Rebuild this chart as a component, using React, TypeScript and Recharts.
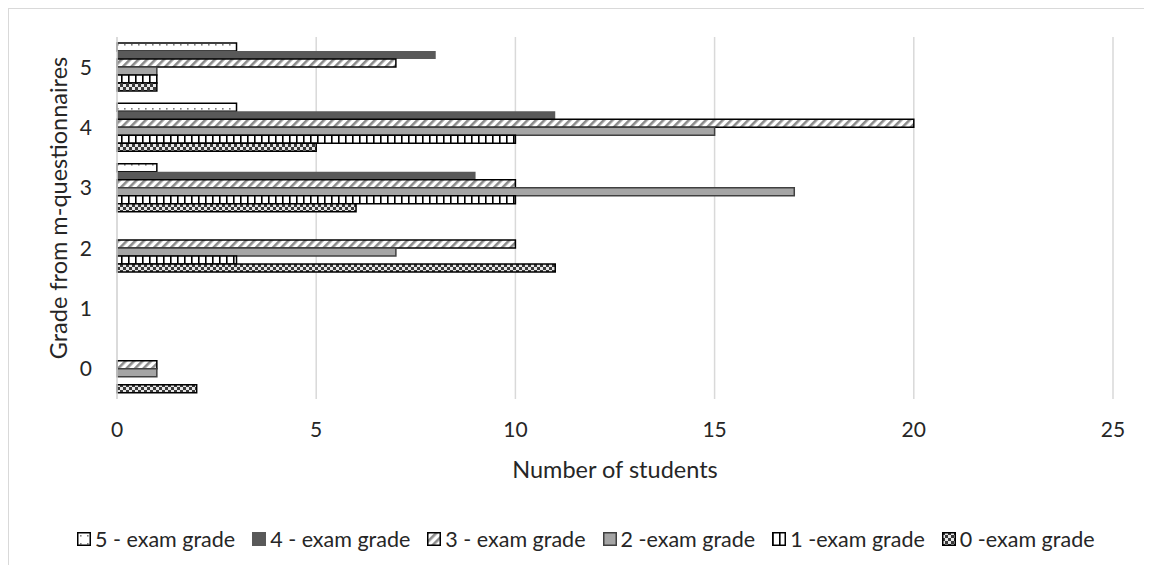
import { BarChart, Bar, XAxis, YAxis, CartesianGrid } from "recharts";

const grades = ["5", "4", "3", "2", "1", "0"];
const exam5 = [3, 3, 1, 0, 0, 0];
const exam4 = [8, 11, 9, 0, 0, 0];
const exam3 = [7, 20, 10, 10, 0, 1];
const exam2 = [1, 15, 17, 7, 0, 1];
const exam1 = [1, 10, 10, 3, 0, 0];
const exam0 = [1, 5, 6, 11, 0, 2];
const xTicks = [0, 5, 10, 15, 20, 25];

const series = [
    { key: "e5", name: "5 - exam grade", values: exam5, fill: "url(#pDots)", stroke: "#000" },
    { key: "e4", name: "4 - exam grade", values: exam4, fill: "#595959", stroke: "none" },
    { key: "e3", name: "3 - exam grade", values: exam3, fill: "url(#pDiag)", stroke: "#000" },
    { key: "e2", name: "2 -exam grade", values: exam2, fill: "#a5a5a5", stroke: "#404040" },
    { key: "e1", name: "1 -exam grade", values: exam1, fill: "url(#pVert)", stroke: "#000" },
    { key: "e0", name: "0 -exam grade", values: exam0, fill: "url(#pCheck)", stroke: "#000" }
];

const data = grades.map((g, i) => {
    const row: any = { grade: g };
    series.forEach((s) => {
        row[s.key] = s.values[i];
    });
    return row;
});

const FONT = "Lato, 'Liberation Sans', sans-serif";
const TEXT = "#262626";

function Patterns() {
    return (
        <svg width="0" height="0" style={{ position: "absolute" }}>
            <defs>
                <pattern id="pDots" width="7" height="8" patternUnits="userSpaceOnUse">
                    <rect width="7" height="8" fill="#fff" />
                    <rect x="3" y="3" width="1.6" height="1.6" fill="#7f7f7f" />
                </pattern>
                <pattern id="pDiag" width="6" height="6" patternUnits="userSpaceOnUse" patternTransform="rotate(45)">
                    <rect width="6" height="6" fill="#fff" />
                    <rect x="0" y="0" width="2.6" height="6" fill="#8c8c8c" />
                </pattern>
                <pattern id="pVert" width="7" height="8" patternUnits="userSpaceOnUse">
                    <rect width="7" height="8" fill="#fff" />
                    <rect x="0" y="0" width="1.6" height="8" fill="#000" />
                </pattern>
                <pattern id="pCheck" width="6" height="6" patternUnits="userSpaceOnUse">
                    <rect width="6" height="6" fill="#e6e6e6" />
                    <rect x="0" y="0" width="3" height="3" fill="#3a3a3a" />
                    <rect x="3" y="3" width="3" height="3" fill="#3a3a3a" />
                </pattern>
            </defs>
        </svg>
    );
}

function App() {
    return (
        <div
            style={{
                position: "relative",
                width: 1136,
                height: 557,
                fontFamily: FONT,
                color: TEXT
            }}
        >
            <style>{"html, body { overflow: hidden; }"}</style>

            <Patterns />

            {/* frame: only top and left edges are visible in the source */}
            <div style={{ position: "absolute", left: 0, top: 0, width: 1144, height: 1, background: "#d9d9d9" }} />
            <div style={{ position: "absolute", left: 0, top: 0, width: 1, height: 557, background: "#d9d9d9" }} />

            <div style={{ position: "absolute", left: 1, top: 1 }}>
                <BarChart
                    width={1143}
                    height={556}
                    data={data}
                    layout="vertical"
                    barCategoryGap="10%"
                    barGap={0}
                    margin={{ top: 28, right: 39, left: 48, bottom: 126 }}
                >
                    <CartesianGrid horizontal={false} stroke="#d9d9d9" strokeWidth={1.5} />

                    <XAxis
                        type="number"
                        domain={[0, 25]}
                        ticks={xTicks}
                        axisLine={false}
                        tickLine={false}
                        tickSize={0}
                        tickMargin={23}
                        height={40}
                        tick={{ fill: TEXT, fontSize: 21, fontFamily: FONT }}
                    />

                    <YAxis
                        type="category"
                        dataKey="grade"
                        width={60}
                        axisLine={{ stroke: "#d9d9d9", strokeWidth: 1.5 }}
                        tickLine={false}
                        tickSize={0}
                        tickMargin={25}
                        tick={{ fill: TEXT, fontSize: 21, fontFamily: FONT }}
                    />

                    {series.map((s) => (
                        <Bar
                            key={s.key}
                            dataKey={s.key}
                            name={s.name}
                            fill={s.fill}
                            stroke={s.stroke}
                            strokeWidth={1.5}
                            isAnimationActive={false}
                        />
                    ))}
                </BarChart>
            </div>

            <div
                style={{
                    position: "absolute",
                    left: 58 - 8,
                    top: 208 - 8,
                    transform: "translate(-50%, -50%) rotate(-90deg)",
                    whiteSpace: "nowrap",
                    fontSize: 23.5
                }}
            >
                Grade from m-questionnaires
            </div>

            <div
                style={{
                    position: "absolute",
                    left: 615 - 8,
                    top: 469 - 8,
                    transform: "translate(-50%, -50%)",
                    whiteSpace: "nowrap",
                    fontSize: 23.5
                }}
            >
                Number of students
            </div>

            <div
                style={{
                    position: "absolute",
                    left: 77 - 8,
                    top: 539 - 8,
                    transform: "translateY(-50%)",
                    display: "flex",
                    alignItems: "center",
                    whiteSpace: "nowrap",
                    fontSize: 21.5
                }}
            >
                {series.map((s) => (
                    <div key={s.key} style={{ display: "flex", alignItems: "center", marginRight: 17 }}>
                        <svg width="14" height="14" style={{ marginRight: 4 }}>
                            <rect
                                x="0.75"
                                y="0.75"
                                width="12.5"
                                height="12.5"
                                fill={s.fill}
                                stroke={s.stroke === "none" ? "#595959" : s.stroke}
                                strokeWidth={1.5}
                            />
                        </svg>
                        <span>{s.name}</span>
                    </div>
                ))}
            </div>
        </div>
    );
}

export default App;
